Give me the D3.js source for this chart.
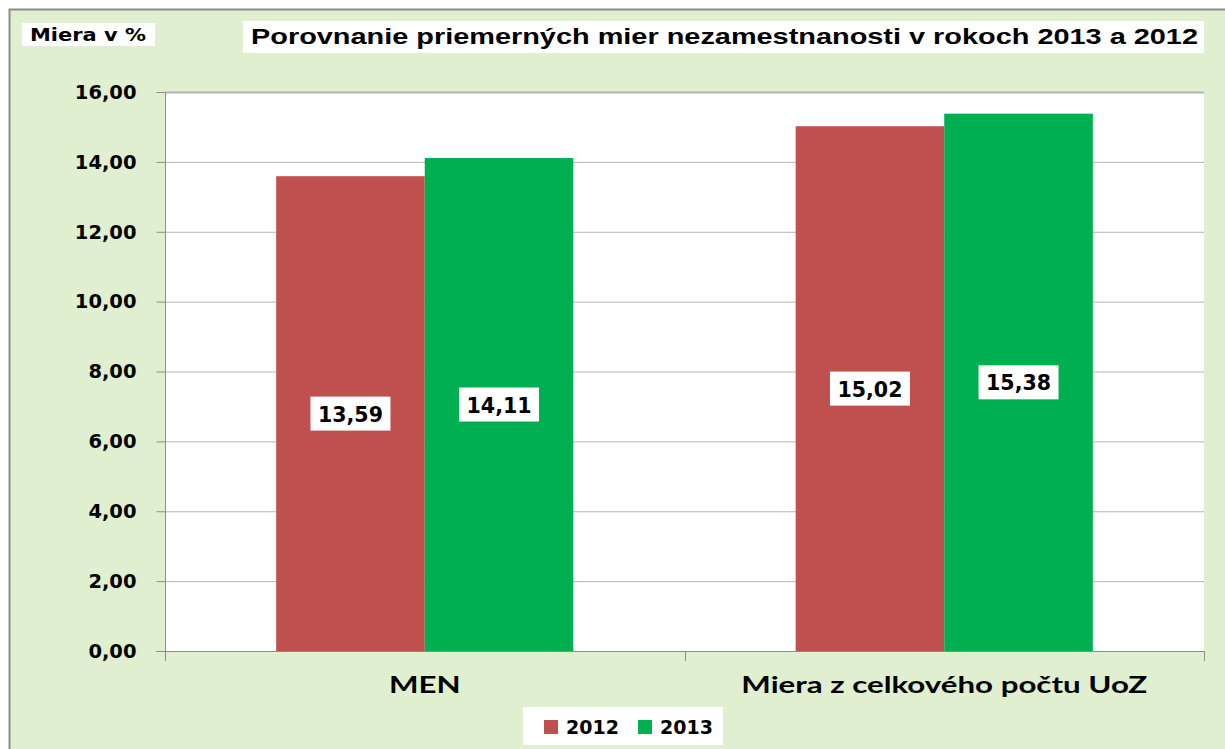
<!DOCTYPE html>
<html>
<head>
<meta charset="utf-8">
<script src="https://cdn.jsdelivr.net/npm/d3@7"></script>
<style>
  body { margin: 0; background: #ffffff; }
  svg { display: block; }
</style>
</head>
<body>
<svg id="chart"></svg>
<script>
// data
const categories = ['MEN', 'Miera z celkového počtu UoZ'];
const years = ['2012', '2013'];
const values2012 = [13.59, 15.02];
const values2013 = [14.11, 15.38];
const yTicks = [0, 2, 4, 6, 8, 10, 12, 14, 16];
const colors = ['#c0504d', '#00b050'];

const width = 1225, height = 749;
const margin = { left: 165, right: 21, top: 92, bottom: 98 };

const svg = d3.select('#chart')
    .attr('width', width)
    .attr('height', height);

// stretch text horizontally (the original picture is wider than its fonts)
function stretch(sel, k) {
    sel.each(function() {
        const w = this.getComputedTextLength();
        d3.select(this).attr('textLength', w * k).attr('lengthAdjust', 'spacingAndGlyphs');
    });
}

// background of chart area
svg.append('rect')
    .attr('x', 9.5).attr('y', 9.5)
    .attr('width', width).attr('height', height)
    .attr('fill', '#dfefcf')
    .attr('stroke', '#8c8c8c')
    .attr('stroke-width', 2);

const x0 = d3.scaleBand()
    .domain(categories)
    .range([margin.left, width - margin.right])
    .paddingInner(0.428)
    .paddingOuter(0.214);

const x1 = d3.scaleBand()
    .domain(years)
    .range([0, x0.bandwidth()]);

const y = d3.scaleLinear()
    .domain([0, 16])
    .range([height - margin.bottom, margin.top]);

// plot area
svg.append('rect')
    .attr('x', margin.left).attr('y', margin.top)
    .attr('width', width - margin.right - margin.left)
    .attr('height', y(0) - margin.top)
    .attr('fill', '#ffffff');

// gridlines
svg.append('g')
    .selectAll('line')
    .data(yTicks.filter(d => d > 0))
    .join('line')
    .attr('x1', margin.left).attr('x2', width - margin.right)
    .attr('y1', d => y(d) + 0.5).attr('y2', d => y(d) + 0.5)
    .attr('stroke', '#b4b4b4')
    .attr('stroke-width', d => d === 16 ? 2 : 1);

// bars
const rows = categories.map((c, i) => ({ cat: c, vals: [values2012[i], values2013[i]] }));

const groups = svg.append('g')
    .selectAll('g')
    .data(rows)
    .join('g')
    .attr('transform', d => `translate(${x0(d.cat)},0)`);

groups.selectAll('rect')
    .data(d => d.vals.map((v, j) => ({ year: years[j], value: v, j: j })))
    .join('rect')
    .attr('x', d => x1(d.year))
    .attr('y', d => y(d.value))
    .attr('width', x1.bandwidth())
    .attr('height', d => y(0) - y(d.value))
    .attr('fill', d => colors[d.j]);

// value labels
const fmt = v => d3.format('.2f')(v).replace('.', ',');
const labels = groups.selectAll('g.lab')
    .data(d => d.vals.map((v, j) => ({ year: years[j], value: v })))
    .join('g')
    .attr('class', 'lab')
    .attr('transform', d => `translate(${x1(d.year) + x1.bandwidth() / 2},${(y(d.value) + y(0)) / 2})`);

labels.append('rect')
    .attr('x', -40).attr('y', -17)
    .attr('width', 80).attr('height', 34)
    .attr('fill', '#ffffff');

labels.append('text')
    .attr('text-anchor', 'middle')
    .attr('dy', '0.37em')
    .attr('font-family', 'DejaVu Sans')
    .attr('font-weight', 'bold')
    .attr('font-size', 22)
    .attr('fill', '#000')
    .attr('textLength', 65)
    .attr('lengthAdjust', 'spacingAndGlyphs')
    .text(d => fmt(d.value));

// y axis
const yAxis = svg.append('g')
    .attr('transform', `translate(${margin.left + 0.5},0)`)
    .call(d3.axisLeft(y).tickValues(yTicks).tickSize(9).tickPadding(20)
        .tickFormat(d => fmt(d)));
yAxis.select('.domain').attr('stroke', '#8c8c8c')
    .attr('d', `M0,${margin.top}V${y(0) + 10}`);
yAxis.selectAll('.tick line').attr('stroke', '#8c8c8c');
yAxis.selectAll('.tick text')
    .attr('font-family', 'DejaVu Sans')
    .attr('font-weight', 'bold')
    .attr('font-size', 19.5)
    .attr('fill', '#000');

// x axis line and separators
const xa = svg.append('g');
xa.append('line')
    .attr('x1', margin.left - 9).attr('x2', width - margin.right)
    .attr('y1', y(0) + 0.5).attr('y2', y(0) + 0.5)
    .attr('stroke', '#8c8c8c');
xa.selectAll('line.sep')
    .data([x0(categories[0]) + x0.bandwidth() + x0.step() * x0.paddingInner() / 2, width - margin.right])
    .join('line')
    .attr('class', 'sep')
    .attr('x1', d => Math.round(d) + 0.5).attr('x2', d => Math.round(d) + 0.5)
    .attr('y1', y(0)).attr('y2', y(0) + 10)
    .attr('stroke', '#8c8c8c');

xa.selectAll('text')
    .data(categories)
    .join('text')
    .attr('x', d => x0(d) + x0.bandwidth() / 2)
    .attr('y', y(0) + 42)
    .attr('text-anchor', 'middle')
    .attr('font-family', 'Lato')
    .attr('font-weight', 'bold')
    .attr('font-size', 23.5)
    .attr('fill', '#000')
    .text(d => d)
    .call(stretch, 1.33);

// y axis title
svg.append('rect')
    .attr('x', 22).attr('y', 23).attr('width', 133).attr('height', 23)
    .attr('fill', '#ffffff');
svg.append('text')
    .attr('x', 30).attr('y', 41)
    .attr('font-family', 'DejaVu Sans')
    .attr('font-size', 17)
    .attr('font-weight', 'bold')
    .attr('fill', '#000')
    .attr('textLength', 116)
    .attr('lengthAdjust', 'spacingAndGlyphs')
    .text('Miera v %');

// chart title
svg.append('rect')
    .attr('x', 243).attr('y', 21).attr('width', 961).attr('height', 32)
    .attr('fill', '#ffffff');
svg.append('text')
    .attr('x', 251).attr('y', 43.5)
    .attr('font-family', 'Liberation Sans')
    .attr('font-weight', 'bold')
    .attr('font-size', 22)
    .attr('fill', '#000')
    .attr('textLength', 947)
    .attr('lengthAdjust', 'spacingAndGlyphs')
    .text('Porovnanie priemerných mier nezamestnanosti v rokoch 2013 a 2012');

// legend
const legend = svg.append('g');
legend.append('rect')
    .attr('x', 523).attr('y', 707).attr('width', 200).attr('height', 38)
    .attr('fill', '#ffffff');
const items = legend.selectAll('g.item')
    .data(years)
    .join('g')
    .attr('class', 'item')
    .attr('transform', (d, i) => `translate(${544 + i * 94},720)`);
items.append('rect')
    .attr('width', 14).attr('height', 14)
    .attr('fill', (d, i) => colors[i]);
items.append('text')
    .attr('x', 22).attr('y', 14)
    .attr('font-family', 'DejaVu Sans')
    .attr('font-weight', 'bold')
    .attr('font-size', 19)
    .attr('fill', '#000')
    .text(d => d);
</script>
</body>
</html>
